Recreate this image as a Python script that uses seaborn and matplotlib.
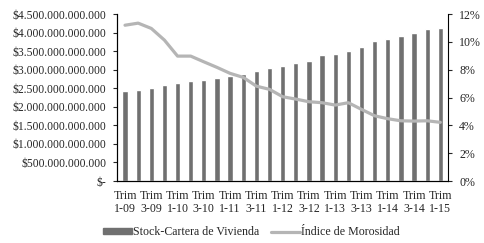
import numpy as np
import pandas as pd
import matplotlib
matplotlib.use("Agg")
import matplotlib.pyplot as plt
import seaborn as sns
from matplotlib.ticker import FuncFormatter, PercentFormatter
from matplotlib.patches import Patch
from matplotlib.lines import Line2D

# trimestres 1-09 .. 1-15
quarters = ["1-09", "2-09", "3-09", "4-09", "1-10", "2-10", "3-10", "4-10",
            "1-11", "2-11", "3-11", "4-11", "1-12", "2-12", "3-12", "4-12",
            "1-13", "2-13", "3-13", "4-13", "1-14", "2-14", "3-14", "4-14", "1-15"]
# stock cartera de vivienda (billones de pesos)
stock = [2.43, 2.46, 2.52, 2.59, 2.64, 2.70, 2.73, 2.77, 2.82, 2.89,
         2.96, 3.04, 3.11, 3.17, 3.24, 3.39, 3.43, 3.51, 3.61, 3.77,
         3.83, 3.90, 3.98, 4.09, 4.12]
# indice de morosidad (%)
morosidad = [11.2, 11.35, 10.97, 10.13, 8.98, 8.98, 8.57, 8.17, 7.74, 7.45,
             6.82, 6.59, 6.06, 5.89, 5.70, 5.63, 5.46, 5.63, 5.15, 4.69,
             4.48, 4.33, 4.31, 4.33, 4.22]

df = pd.DataFrame({
    "trim": ["Trim\n" + q for q in quarters],
    "stock": np.array(stock) * 1e12,
    "mora": np.array(morosidad) / 100,
})
df["pos"] = np.arange(len(df))

sns.set_style("white")
plt.rcParams["font.family"] = ["Liberation Serif", "DejaVu Serif"]
plt.rcParams["font.size"] = 8.6

bar_color = "#707070"
line_color = "#b5b5b5"

fig = plt.figure(figsize=(4.84, 2.43), dpi=100)
ax = fig.add_axes([0.242, 0.255, 0.684, 0.687])
sns.barplot(data=df, x="trim", y="stock", color=bar_color, width=0.4,
            saturation=1, ax=ax)
ax.set_ylim(0, 4.5e12)
ax.set_yticks(np.arange(0, 4.5e12 + 1, 0.5e12))


def peso(v, _):
    if v == 0:
        return "$-"
    return "$" + f"{v:,.0f}".replace(",", ".")


ax.yaxis.set_major_formatter(FuncFormatter(peso))
ax.set_xticks(df["pos"][::2])
ax.set_xticklabels(df["trim"][::2], linespacing=1.15)
ax.set_xlim(-0.6, len(df) - 0.4)
ax.set_xlabel("")
ax.set_ylabel("")

ax2 = ax.twinx()
sns.lineplot(data=df, x="pos", y="mora", color=line_color, linewidth=2.3, ax=ax2)
ax2.set_ylim(0, 0.12)
ax2.set_yticks(np.arange(0, 0.121, 0.02))
ax2.yaxis.set_major_formatter(PercentFormatter(1, decimals=0))
ax2.set_ylabel("")
ax2.set_xlabel("")
ax2.set_xlim(-0.6, len(df) - 0.4)

for a in (ax, ax2):
    a.spines["top"].set_visible(False)
    for s in a.spines.values():
        s.set_color("black")
        s.set_linewidth(0.8)
ax.spines["right"].set_visible(False)
ax.tick_params(axis="y", left=True, length=3, width=0.8, pad=5, labelsize=8.4)
ax.tick_params(axis="x", bottom=False, pad=3)
ax2.tick_params(axis="y", right=True, length=3, width=0.8, pad=5)

handles = [Patch(color=bar_color), Line2D([], [], color=line_color, linewidth=2.3)]
labels = ["Stock-Cartera de Vivienda", "Índice de Morosidad"]
fig.legend(handles, labels, loc="lower center", bbox_to_anchor=(0.52, -0.025),
           ncol=2, frameon=False, handlelength=2.4, handleheight=0.45,
           handletextpad=0.1, columnspacing=1.0)

fig.savefig("out.png", dpi=100)
